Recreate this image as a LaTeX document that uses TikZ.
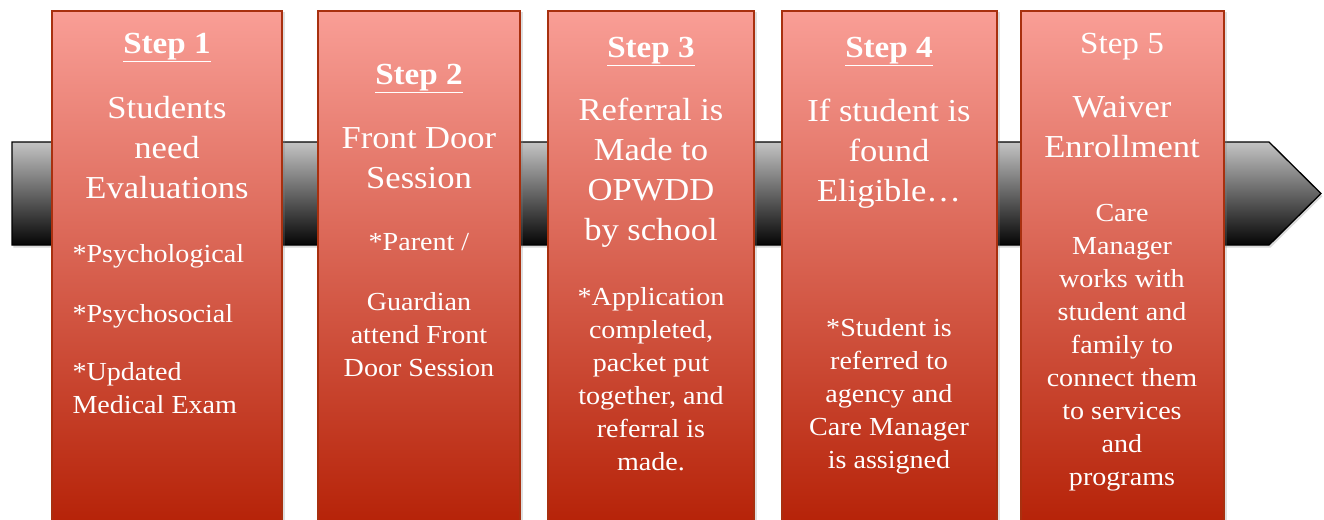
\documentclass[tikz,border=0pt]{standalone}
\usepackage{fontspec}
\setmainfont{Liberation Serif}[FakeStretch=1.08]
\usetikzlibrary{shadows}

\definecolor{boxtop}{HTML}{F99E96}
\definecolor{boxbottom}{HTML}{B52106}
\definecolor{boxline}{HTML}{A8300F}
\definecolor{bartop}{HTML}{C4C4C4}
\definecolor{barbottom}{HTML}{050505}

\tikzset{every picture/.style={line width=0.75pt}}
\tikzset{
  stepbox/.style={draw=boxline, line width=1.2pt, top color=boxtop, bottom color=boxbottom,
    drop shadow={shadow xshift=2pt, shadow yshift=-1pt, opacity=0.25}},
  timebar/.style={draw=black, line width=1pt, top color=bartop, bottom color=barbottom,
    drop shadow={shadow xshift=1pt, shadow yshift=-2pt, opacity=0.3}},
  steptitle/.style={text=white, inner sep=0.75pt, font=\fontsize{23}{27}\selectfont\bfseries},
  bigtext/.style={text=white, inner sep=0.75pt, align=center, font=\fontsize{24}{30}\selectfont},
  smalltext/.style={text=white, inner sep=0.75pt, align=center, font=\fontsize{19.5}{24.75}\selectfont},
}

\begin{document}
\begin{tikzpicture}[x=0.75pt,y=0.75pt,yscale=-1,xscale=1]
\useasboundingbox (0,0) rectangle (1324,519);
\clip (0,0) rectangle (1324,519);

%Shape: Arrow
\draw [timebar] (12,142) -- (1269,142) -- (1321,193.5) -- (1269,245) -- (12,245) -- cycle ;

%Shape: Rectangles
\draw [stepbox] (52,11) rectangle (282,530) ;
\draw [stepbox] (318,11) rectangle (520,530) ;
\draw [stepbox] (548,11) rectangle (754,530) ;
\draw [stepbox] (782,11) rectangle (997,530) ;
\draw [stepbox] (1021,11) rectangle (1224,530) ;

% Step 1 (multi-line nodes sit on their last baseline)
\node (t1) [steptitle, anchor=base] at (167,53) {\underline{Step 1}};
\node (a1) [bigtext, anchor=base] at (167,198) {Students\\need\\Evaluations};
\node (b1) [smalltext, anchor=base west] at (71,262) {*Psychological};
\node (c1) [smalltext, anchor=base west] at (71,322) {*Psychosocial};
\node (d1) [smalltext, anchor=base west, align=left] at (71,413) {*Updated\\Medical Exam};

% Step 2
\node (t2) [steptitle, anchor=base] at (419,84) {\underline{Step 2}};
\node (a2) [bigtext, anchor=base] at (419,188) {Front Door\\Session};
\node (b2) [smalltext, anchor=base] at (419,250) {*Parent /};
\node (c2) [smalltext, anchor=base] at (419,376) {Guardian\\attend Front\\Door Session};

% Step 3
\node (t3) [steptitle, anchor=base] at (651,57) {\underline{Step 3}};
\node (a3) [bigtext, anchor=base] at (651,240) {Referral is\\Made to\\OPWDD\\by school};
\node (b3) [smalltext, anchor=base] at (651,470) {*Application\\completed,\\packet put\\together, and\\referral is\\made.};

% Step 4
\node (t4) [steptitle, anchor=base] at (889,57) {\underline{Step 4}};
\node (a4) [bigtext, anchor=base] at (889,201) {If student is\\found\\Eligible\ldots};
\node (b4) [smalltext, anchor=base] at (889,468) {*Student is\\referred to\\agency and\\Care Manager\\is assigned};

% Step 5
\node (t5) [steptitle, anchor=base, font=\fontsize{23}{27}\selectfont] at (1122,53) {Step 5};
\node (a5) [bigtext, anchor=base] at (1122,157) {Waiver\\Enrollment};
\node (b5) [smalltext, anchor=base] at (1122,485) {Care\\Manager\\works with\\student and\\family to\\connect them\\to services\\and\\programs};

\end{tikzpicture}
\end{document}
